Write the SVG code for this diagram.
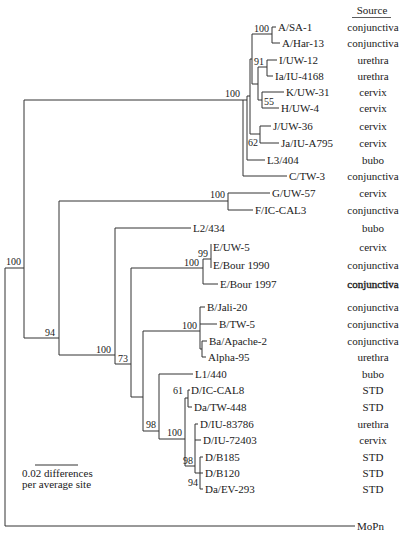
<svg xmlns="http://www.w3.org/2000/svg" width="404" height="536" viewBox="0 0 404 536">
<style>
.c{fill:none;stroke:#333;stroke-width:1}
text{font-family:"Liberation Serif","DejaVu Serif",serif;fill:#1a1a1a}
.lf{font-size:11px}
.src{font-size:11px;text-anchor:middle}
.bs{font-size:10px;text-anchor:end}
.bss{font-size:10px}
</style>
<rect width="404" height="536" fill="#fff"/>
<g id="connectors" class="c">
<path d="M5 268V526M5 268H24M5 526H355"/>
<path d="M24 100V338M24 100H243M24 338H59"/>
<path d="M243 100V176M243 176H287M243 100H247"/>
<path d="M247 96V160M247 160H265M247 96H250"/>
<path d="M250 59V134M250 134H260M250 59H252"/>
<path d="M252 34V84M252 34H272M252 84H258"/>
<path d="M272 27V43M272 27H276M272 43H280"/>
<path d="M258 67V100M258 67H267M258 100H262"/>
<path d="M267 60V76M267 60H277M267 76H273"/>
<path d="M262 92V108M262 92H284M262 108H279"/>
<path d="M260 126V143M260 126H271M260 143H279"/>
<path d="M59 201V355M59 201H228M59 355H115"/>
<path d="M228 193V210M228 193H270M228 210H253"/>
<path d="M115 228V364M115 228H191M115 364H131"/>
<path d="M131 268V397M131 268H203M131 397H143"/>
<path d="M203 259V284M203 259H211M203 284H218"/>
<path d="M211 244V268"/>
<path d="M143 331V431M143 331H200M143 431H159"/>
<path d="M200 307V349M200 307H205M200 324H217M200 349H202"/>
<path d="M202 341V357M202 341H207M202 357H206"/>
<path d="M159 374V439M159 374H193M159 439H185"/>
<path d="M185 398V466M185 398H188M185 466H195"/>
<path d="M188 390V407M188 390H190M188 407H192"/>
<path d="M195 424V473M195 424H198M195 440H201M195 473H200"/>
<path d="M200 457V489M200 457H203M200 473H203M200 489H203"/>
<path d="M35 465H78"/>
</g>
<g id="header"><text class="src" x="372" y="14" font-size="12">Source</text><path d="M352 17.5H391" stroke="#333" stroke-width="0.8"/></g>
<g id="n-ASA1"><text class="lf" x="278" y="31">A/SA-1</text><text class="src" x="373" y="31">conjunctiva</text></g>
<g id="n-AHar13"><text class="lf" x="282" y="47">A/Har-13</text><text class="src" x="373" y="47">conjunctiva</text></g>
<g id="n-IUW12"><text class="lf" x="279" y="64">I/UW-12</text><text class="src" x="373" y="64">urethra</text></g>
<g id="n-IaIU4168"><text class="lf" x="275" y="80">Ia/IU-4168</text><text class="src" x="373" y="80">urethra</text></g>
<g id="n-KUW31"><text class="lf" x="286" y="96">K/UW-31</text><text class="src" x="373" y="96">cervix</text></g>
<g id="n-HUW4"><text class="lf" x="281" y="112">H/UW-4</text><text class="src" x="373" y="112">cervix</text></g>
<g id="n-JUW36"><text class="lf" x="273" y="130">J/UW-36</text><text class="src" x="373" y="130">cervix</text></g>
<g id="n-JaIUA795"><text class="lf" x="281" y="147">Ja/IU-A795</text><text class="src" x="373" y="147">cervix</text></g>
<g id="n-L3404"><text class="lf" x="267" y="164">L3/404</text><text class="src" x="373" y="164">bubo</text></g>
<g id="n-CTW3"><text class="lf" x="289" y="180">C/TW-3</text><text class="src" x="373" y="180">conjunctiva</text></g>
<g id="n-GUW57"><text class="lf" x="272" y="197">G/UW-57</text><text class="src" x="373" y="197">cervix</text></g>
<g id="n-FICCAL3"><text class="lf" x="255" y="214">F/IC-CAL3</text><text class="src" x="373" y="214">conjunctiva</text></g>
<g id="n-L2434"><text class="lf" x="193" y="232">L2/434</text><text class="src" x="373" y="232">bubo</text></g>
<g id="n-EUW5"><text class="lf" x="213" y="251">E/UW-5</text><text class="src" x="373" y="251">cervix</text></g>
<g id="n-EBour1990"><text class="lf" x="213" y="269">E/Bour 1990</text><text class="src" x="373" y="269">conjunctiva</text></g>
<g id="n-EBour1997"><text class="lf" x="220" y="288">E/Bour 1997</text><text class="src" x="373" y="288" stroke="#1a1a1a" stroke-width="0.35">conjunctiva</text></g>
<g id="n-BJali20"><text class="lf" x="207" y="311">B/Jali-20</text><text class="src" x="373" y="311">conjunctiva</text></g>
<g id="n-BTW5"><text class="lf" x="219" y="328">B/TW-5</text><text class="src" x="373" y="328">conjunctiva</text></g>
<g id="n-BaApache2"><text class="lf" x="209" y="345">Ba/Apache-2</text><text class="src" x="373" y="345">conjunctiva</text></g>
<g id="n-Alpha95"><text class="lf" x="208" y="361">Alpha-95</text><text class="src" x="373" y="361">urethra</text></g>
<g id="n-L1440"><text class="lf" x="195" y="378">L1/440</text><text class="src" x="373" y="378">bubo</text></g>
<g id="n-DICCAL8"><text class="lf" x="191" y="394">D/IC-CAL8</text><text class="src" x="373" y="394">STD</text></g>
<g id="n-DaTW448"><text class="lf" x="194" y="411">Da/TW-448</text><text class="src" x="373" y="411">STD</text></g>
<g id="n-DIU83786"><text class="lf" x="200" y="428">D/IU-83786</text><text class="src" x="373" y="428">urethra</text></g>
<g id="n-DIU72403"><text class="lf" x="203" y="444">D/IU-72403</text><text class="src" x="373" y="444">cervix</text></g>
<g id="n-DB185"><text class="lf" x="205" y="461">D/B185</text><text class="src" x="373" y="461">STD</text></g>
<g id="n-DB120"><text class="lf" x="205" y="477">D/B120</text><text class="src" x="373" y="477">STD</text></g>
<g id="n-DaEV293"><text class="lf" x="205" y="493">Da/EV-293</text><text class="src" x="373" y="493">STD</text></g>
<g id="n-MoPn"><text class="lf" x="357" y="530">MoPn</text></g>
<g id="bootstrap">
<text class="bs" x="21" y="265">100</text>
<text class="bs" x="55" y="336">94</text>
<text class="bs" x="240" y="97">100</text>
<text class="bs" x="269" y="32">100</text>
<text class="bs" x="264" y="65">91</text>
<text class="bss" x="264" y="105">55</text>
<text class="bs" x="258" y="146">62</text>
<text class="bs" x="225" y="198">100</text>
<text class="bs" x="111" y="353">100</text>
<text class="bs" x="128" y="362">73</text>
<text class="bs" x="199" y="266">100</text>
<text class="bs" x="208" y="257">99</text>
<text class="bs" x="197" y="329">100</text>
<text class="bs" x="156" y="428">98</text>
<text class="bs" x="182" y="436">100</text>
<text class="bs" x="183" y="394">61</text>
<text class="bs" x="193" y="464">98</text>
<text class="bs" x="198" y="486">94</text>
</g>
<g id="scale"><text class="lf" x="22" y="477">0.02 differences</text><text class="lf" x="22" y="488">per average site</text></g>
</svg>
